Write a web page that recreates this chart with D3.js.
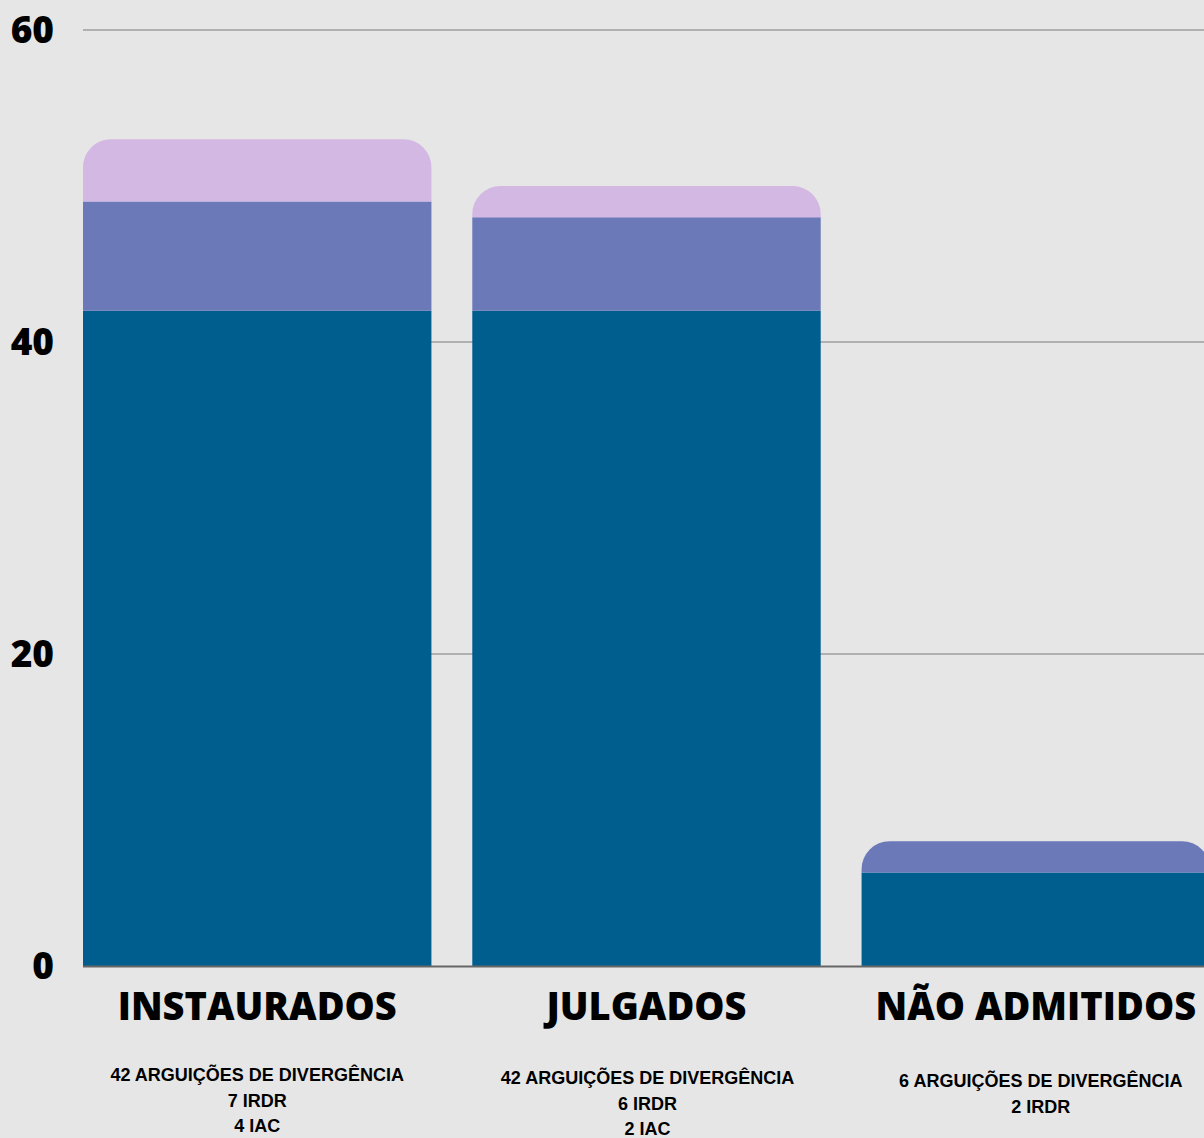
<!DOCTYPE html>
<html>
<head>
<meta charset="utf-8">
<script src="https://cdn.jsdelivr.net/npm/d3@7"></script>
<style>
  body { margin: 0; background: #e6e6e6; }
  svg { display: block; }
</style>
</head>
<body>
<svg></svg>
<script>
var width = 1204;
var height = 1138;

// data
var categories = ["INSTAURADOS", "JULGADOS", "NÃO ADMITIDOS"];
var arguicoes = [42, 42, 6];
var irdr = [7, 6, 2];
var iac = [4, 2, 0];
var details = [
  ["42 ARGUIÇÕES DE DIVERGÊNCIA", "7 IRDR", "4 IAC"],
  ["42 ARGUIÇÕES DE DIVERGÊNCIA", "6 IRDR", "2 IAC"],
  ["6 ARGUIÇÕES DE DIVERGÊNCIA", "2 IRDR"]
];
var yTicks = [0, 20, 40, 60];

var keys = ["arguicoes", "irdr", "iac"];
var colors = ["#005e8f", "#6b79b9", "#d4b8e4"];

var rows = categories.map(function(c, i) {
  return { cat: c, arguicoes: arguicoes[i], irdr: irdr[i], iac: iac[i] };
});

var svg = d3.select("svg")
            .attr("width", width)
            .attr("height", height);

var xScale = d3.scaleBand()
               .domain(categories)
               .range([83, 1210])
               .paddingInner(0.105)
               .paddingOuter(0);

var yScale = d3.scaleLinear()
               .domain([0, 60])
               .range([966, 30]);

// grid lines
svg.append("g")
   .selectAll("line")
   .data(yTicks.filter(function(t) { return t > 0; }))
   .enter()
   .append("line")
   .attr("x1", 83)
   .attr("x2", width)
   .attr("y1", function(d) { return yScale(d); })
   .attr("y2", function(d) { return yScale(d); })
   .attr("stroke", "#b0b0b0")
   .attr("stroke-width", 2);

// y labels
svg.append("g")
   .selectAll("text")
   .data(yTicks)
   .enter()
   .append("text")
   .attr("x", 54)
   .attr("y", function(d) { return yScale(d); })
   .attr("dy", "0.36em")
   .attr("text-anchor", "end")
   .style("font-family", "'Open Sans', sans-serif")
   .style("font-weight", 800)
   .style("font-size", "37px")
   .text(function(d) { return d; });

var stacked = d3.stack().keys(keys)(rows);

// top segment of each bar gets rounded corners
function topIndex(d) {
  var idx = 0;
  keys.forEach(function(k, i) { if (d[k] > 0) idx = i; });
  return idx;
}

function segPath(x, w, y0, y1, round) {
  var h = y0 - y1;
  if (!round) {
    return "M" + x + "," + y0 + "V" + y1 + "H" + (x + w) + "V" + y0 + "Z";
  }
  var r = Math.min(28, h, w / 2);
  return "M" + x + "," + y0 +
         "V" + (y1 + r) +
         "A" + r + "," + r + " 0 0 1 " + (x + r) + "," + y1 +
         "H" + (x + w - r) +
         "A" + r + "," + r + " 0 0 1 " + (x + w) + "," + (y1 + r) +
         "V" + y0 + "Z";
}

svg.append("g")
   .selectAll("g")
   .data(stacked)
   .enter()
   .append("g")
   .attr("fill", function(d, i) { return colors[i]; })
   .each(function(series, si) {
     d3.select(this)
       .selectAll("path")
       .data(series.filter(function(p) { return p[1] > p[0]; }))
       .enter()
       .append("path")
       .attr("d", function(p) {
         var x = xScale(p.data.cat);
         return segPath(x, xScale.bandwidth(), yScale(p[0]), yScale(p[1]), topIndex(p.data) === si);
       });
   });

// baseline
svg.append("line")
   .attr("x1", 83)
   .attr("x2", width)
   .attr("y1", yScale(0) + 0.5)
   .attr("y2", yScale(0) + 0.5)
   .attr("stroke", "#666")
   .attr("stroke-width", 2);

// category labels
svg.append("g")
   .selectAll("text")
   .data(categories)
   .enter()
   .append("text")
   .attr("x", function(d) { return xScale(d) + xScale.bandwidth() / 2; })
   .attr("y", 1020)
   .attr("text-anchor", "middle")
   .style("font-family", "'Open Sans', sans-serif")
   .style("font-weight", 800)
   .style("font-size", "38px")
   .text(function(d) { return d; });

// detail lines
var detailTop = [1081, 1084, 1087];
var detailShift = [0, 1, 5];
categories.forEach(function(c, i) {
  svg.append("text")
     .attr("x", xScale(c) + xScale.bandwidth() / 2 + detailShift[i])
     .attr("y", detailTop[i])
     .attr("text-anchor", "middle")
     .style("font-family", "'Liberation Sans', Arial, sans-serif")
     .style("font-weight", 700)
     .style("font-size", "18px")
     .selectAll("tspan")
     .data(details[i])
     .enter()
     .append("tspan")
     .attr("x", xScale(c) + xScale.bandwidth() / 2 + detailShift[i])
     .attr("dy", function(d, j) { return j === 0 ? 0 : 25.5; })
     .text(function(d) { return d; });
});
</script>
</body>
</html>
